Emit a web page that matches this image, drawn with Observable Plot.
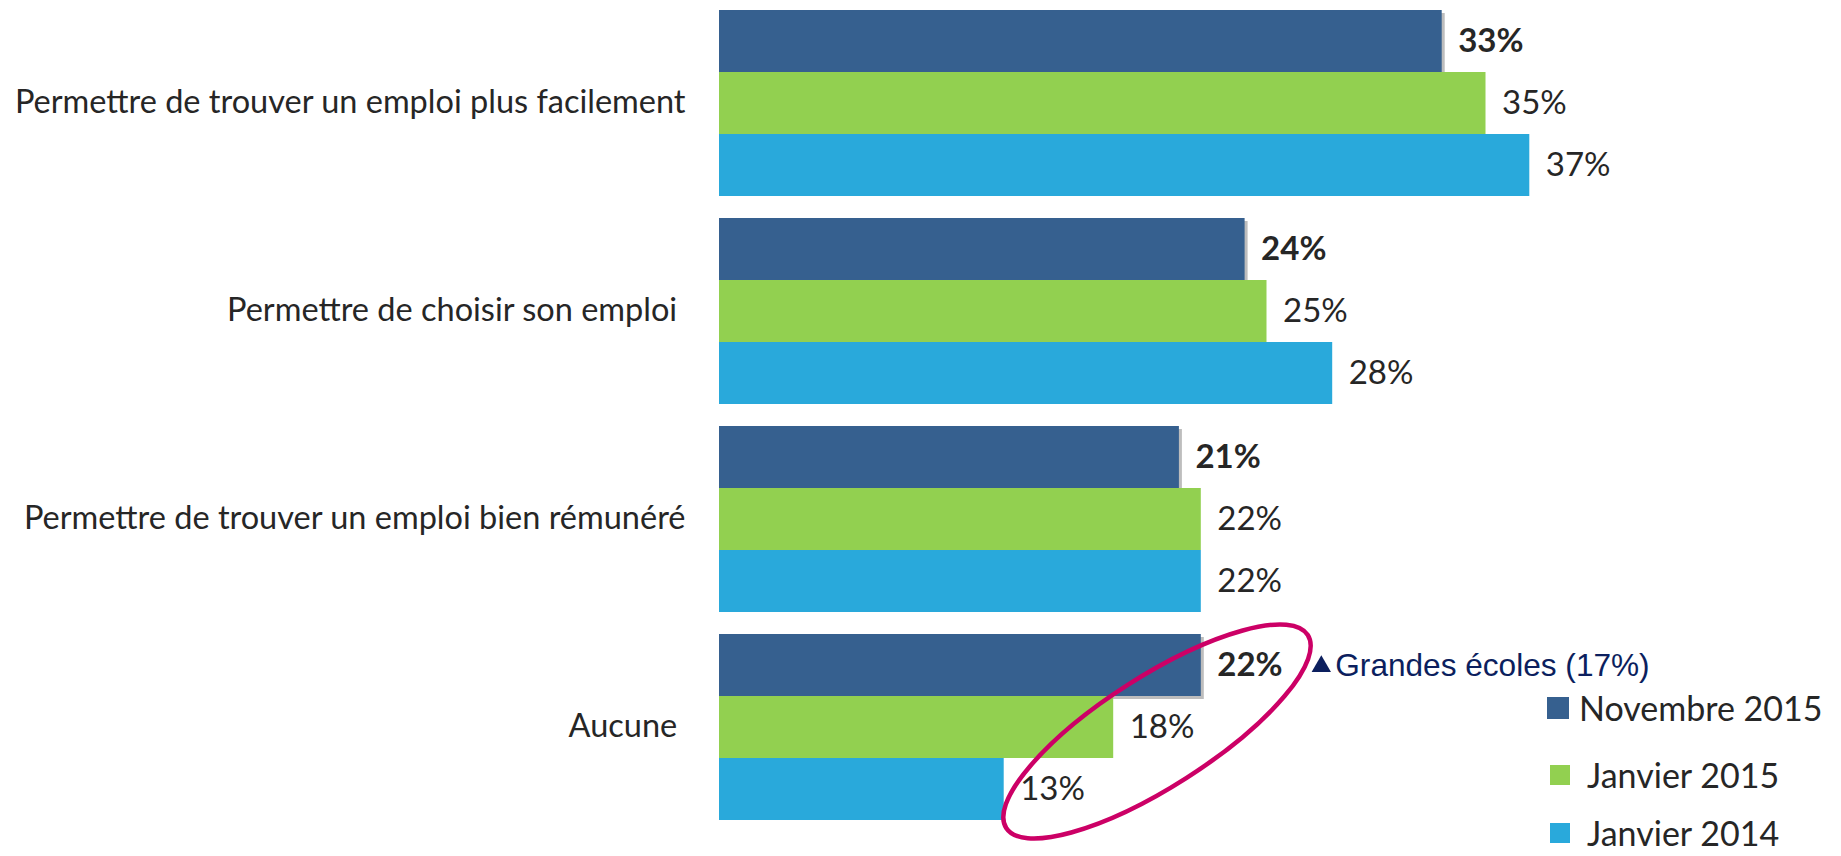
<!DOCTYPE html>
<html><head><meta charset="utf-8">
<script src="https://cdn.jsdelivr.net/npm/d3@7"></script>
<script src="https://cdn.jsdelivr.net/npm/@observablehq/plot@0.6"></script>
<style>
html,body{margin:0;padding:0;background:#fff;}
#wrap{position:relative;width:1841px;height:856px;overflow:hidden;}
.leg{position:absolute;display:flex;align-items:center;font-family:Lato,sans-serif;font-size:34px;color:#262626;height:30px;line-height:30px;white-space:nowrap;}
.sw{display:inline-block;}
</style></head><body><div id="wrap"></div>
<script>
// ---- data ----
const categories = [
  "Permettre de trouver un emploi plus facilement",
  "Permettre de choisir son emploi",
  "Permettre de trouver un emploi bien rémunéré",
  "Aucune"
];
const categoryLabels = [
  "Permettre de trouver un emploi plus facilement",
  "Permettre de choisir son emploi\u00a0",
  "Permettre de trouver un emploi bien rémunéré",
  "Aucune\u00a0"
];
const series = ["Novembre 2015", "Janvier 2015", "Janvier 2014"];
const nov2015 = [33, 24, 21, 22];
const jan2015 = [35, 25, 22, 18];
const jan2014 = [37, 28, 22, 13];
const colors = ["#36608f", "#92d050", "#29a9db"];
const annotationText = "Grandes écoles (17%)";
const annotationCategory = "Aucune";
const annotationSeries = "Novembre 2015";
const ellipseCenterValue = 20;

// ---- table ----
const valuesBySeries = [nov2015, jan2015, jan2014];
const rows = [];
categories.forEach((c, i) => valuesBySeries.forEach((arr, j) => rows.push({cat: c, series: series[j], value: arr[i]})));
const novRows = rows.filter(d => d.series === series[0]);
const otherRows = rows.filter(d => d.series !== series[0]);
const annot = [{cat: annotationCategory, series: annotationSeries, value: novRows.find(d => d.cat === annotationCategory).value}];
const navy = "#0c1f5e";
const textColor = "#262626";

const chart = Plot.plot({
  width: 1841, height: 856,
  marginLeft: 719, marginRight: 27, marginTop: 9, marginBottom: 35,
  style: {fontFamily: "Lato, sans-serif", background: "white", overflow: "visible"},
  x: {domain: [0, 50], axis: null},
  y: {domain: series, axis: null, paddingInner: 0, paddingOuter: 0},
  fy: {domain: categories, axis: null, paddingInner: 0.1, paddingOuter: 0},
  color: {domain: series, range: colors},
  marks: [
    Plot.barX(novRows, {x: "value", y: "series", fy: "cat", fill: "#bdbdbd", dx: 3, dy: 3}),
    Plot.barX(rows, {x: "value", y: "series", fy: "cat", fill: "series"}),
    Plot.text(novRows, {x: "value", y: "series", fy: "cat", text: d => d.value + "%", textAnchor: "start", dx: 16, fontSize: 33, fontWeight: "bold", fill: textColor}),
    Plot.text(otherRows, {x: "value", y: "series", fy: "cat", text: d => d.value + "%", textAnchor: "start", dx: 16, fontSize: 33, fill: textColor}),
    Plot.text(categories, {fy: d => d, text: (d, i) => categoryLabels[i], frameAnchor: "left", textAnchor: "end", dx: -34, fontSize: 32.5, fill: textColor}),
    Plot.dot(annot, {x: "value", y: "series", fy: "cat", symbol: "triangle", r: 7.2, fill: navy, stroke: "none", dx: 120, dy: 1}),
    Plot.text(annot, {x: "value", y: "series", fy: "cat", text: () => annotationText, textAnchor: "start", dx: 134, fontSize: 31.6, fontFamily: "'Liberation Sans', Arial, sans-serif", fill: navy})
  ]
});

document.getElementById("wrap").appendChild(chart);

// ---- highlight ellipse (annotation) ----
const xs = chart.scale("x"), fys = chart.scale("fy");
const cx = xs.apply(ellipseCenterValue);
const cy = fys.apply(annotationCategory) + fys.bandwidth / 2 + 5;
d3.select(chart).append("ellipse")
  .attr("cx", 0).attr("cy", 0).attr("rx", 179).attr("ry", 55)
  .attr("transform", `translate(${cx},${cy}) rotate(-32.6)`)
  .attr("fill", "none").attr("stroke", "#cc0066").attr("stroke-width", 4.5);

// ---- legend ----
const legendItems = [
  {label: series[0], color: colors[0], size: 22, left: 1547, gap: 10, cy: 708},
  {label: series[1], color: colors[1], size: 20, left: 1550, gap: 17, cy: 775},
  {label: series[2], color: colors[2], size: 20, left: 1550, gap: 17, cy: 833}
];
const wrap = document.getElementById("wrap");
legendItems.forEach(it => {
  const div = document.createElement("div");
  div.className = "leg";
  div.style.left = it.left + "px";
  div.style.top = (it.cy - 15) + "px";
  const sw = document.createElement("span");
  sw.className = "sw";
  sw.style.width = it.size + "px"; sw.style.height = it.size + "px";
  sw.style.background = it.color; sw.style.marginRight = it.gap + "px";
  div.appendChild(sw);
  div.appendChild(document.createTextNode(it.label));
  wrap.appendChild(div);
});
</script></body></html>
